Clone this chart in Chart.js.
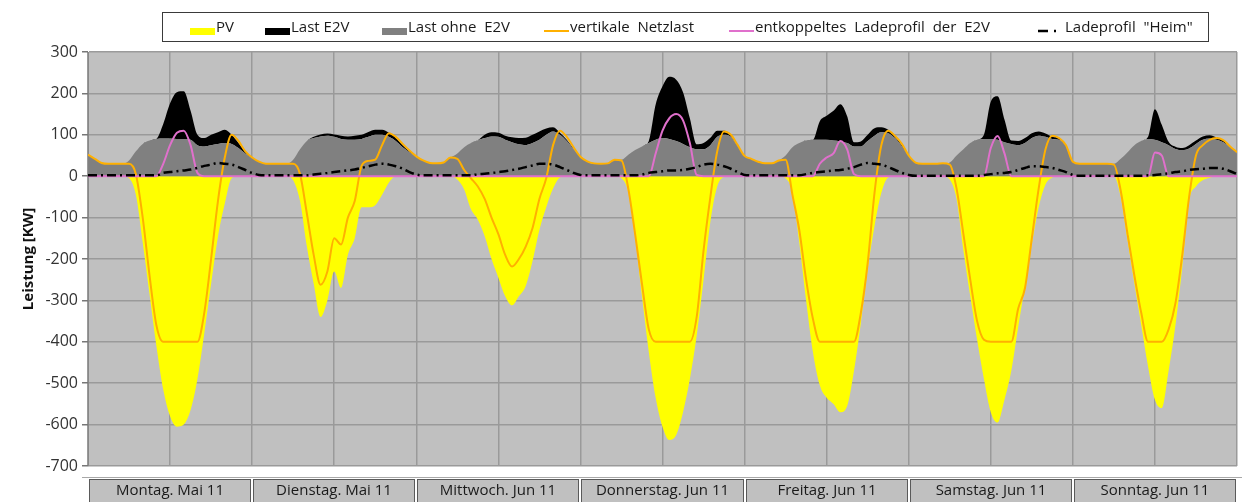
<!DOCTYPE html>
<html>
<head>
<meta charset="utf-8">
<script src="https://cdn.jsdelivr.net/npm/chart.js@4.4.0/dist/chart.umd.min.js"></script>
<style>
  html, body { margin: 0; padding: 0; background: #fff; }
</style>
</head>
<body>
<canvas id="mycanvas" width="1242" height="502"></canvas>
<script>
// one value per hour, Monday 0:00 .. Sunday 24:00 (169 points)
var dayLabels = ['Montag. Mai 11', 'Dienstag. Mai 11', 'Mittwoch. Jun 11', 'Donnerstag. Jun 11',
                 'Freitag. Jun 11', 'Samstag. Jun 11', 'Sonntag. Jun 11'];
var yTicks = [300, 200, 100, 0, -100, -200, -300, -400, -500, -600, -700];

var pv = [
  0,0,0,0,0,0,-5,-45,-160,-285,-410,-515,-580,-605,-600,-565,-490,-380,-260,-146,-66,-5,0,0,
  0,0,0,0,0,0,-10,-60,-170,-260,-340,-300,-230,-270,-190,-150,-75,-75,-70,-45,-15,0,0,0,
  0,0,0,0,0,0,-8,-32,-80,-105,-145,-200,-245,-290,-312,-290,-265,-205,-130,-75,-30,-3,0,0,
  0,0,0,0,0,0,-5,-38,-145,-290,-425,-535,-605,-637,-625,-570,-490,-385,-250,-110,-25,-2,0,0,
  0,0,0,0,0,0,-5,-40,-160,-300,-425,-505,-535,-550,-570,-555,-470,-355,-225,-120,-40,-3,0,0,
  0,0,0,0,0,0,-8,-55,-180,-290,-395,-490,-570,-595,-540,-470,-365,-265,-165,-75,-20,-3,0,0,
  0,0,0,0,0,0,0,-50,-155,-260,-360,-460,-540,-560,-470,-360,-220,-60,-25,-10,-4,0,0,0,
  0
];

var lastOhneE2V = [
  52,42,32,30,30,30,38,60,78,86,90,91,91,90,90,88,75,72,75,78,80,78,68,55,
  45,35,30,30,30,30,40,65,85,92,96,98,95,90,88,88,90,95,100,100,95,85,70,58,
  48,38,32,31,33,45,55,70,80,87,92,96,95,88,82,77,75,80,88,100,108,100,85,65,
  47,35,30,30,30,40,40,52,63,72,80,88,92,90,85,78,70,65,65,75,95,100,95,72,
  49,42,35,31,31,38,50,70,80,86,88,88,88,86,84,80,72,72,85,98,106,104,92,72,
  50,33,30,30,30,30,33,50,65,80,88,90,90,88,82,78,75,80,92,98,95,90,88,72,
  35,30,30,30,30,30,30,42,58,75,85,90,88,82,75,66,63,67,78,88,91,88,82,70,
  55
];

var lastE2V = [
  0,0,0,0,0,0,0,0,0,0,0,35,85,113,115,70,25,20,25,28,32,22,12,4,
  0,0,0,0,0,0,0,0,0,3,5,5,6,8,8,10,10,12,12,12,10,8,5,2,
  0,0,0,0,0,0,0,0,0,0,8,10,10,10,12,15,18,20,20,15,10,5,3,1,
  0,0,0,0,0,0,0,0,0,0,5,85,125,150,148,125,70,12,15,18,15,10,5,2,
  0,0,0,0,0,0,0,0,0,0,0,45,58,72,90,65,10,12,15,18,12,8,5,2,
  0,0,0,0,0,0,0,0,0,0,0,10,90,105,55,8,10,12,12,10,8,5,3,1,
  0,0,0,0,0,0,0,0,0,0,0,5,74,42,8,5,5,8,8,8,8,6,5,3,
  0
];

var netzlast = [
  52,42,32,30,30,30,30,5,-100,-240,-360,-400,-400,-400,-400,-400,-400,-330,-200,-60,45,100,85,60,
  45,35,30,30,30,30,30,5,-90,-190,-262,-230,-150,-165,-100,-60,25,37,40,75,104,95,78,62,
  48,38,32,31,33,45,42,15,-5,-25,-55,-100,-140,-190,-218,-200,-170,-125,-55,-5,75,110,95,70,
  47,36,31,30,31,40,38,-30,-140,-260,-370,-400,-400,-400,-400,-400,-400,-340,-180,-50,60,108,100,75,
  49,42,35,31,31,38,40,-45,-130,-250,-345,-400,-400,-400,-400,-400,-400,-330,-210,-40,75,110,97,78,
  50,33,30,30,30,31,28,-30,-140,-250,-350,-395,-400,-400,-400,-400,-320,-270,-150,-30,65,98,92,75,
  35,30,30,30,30,30,28,-35,-140,-240,-330,-400,-400,-400,-370,-307,-190,-50,50,75,88,92,87,72,
  58
];

var ladeprofilE2V = [
  0,0,0,0,0,0,0,0,0,0,0,30,75,105,110,75,8,0,0,0,0,0,0,0,
  0,0,0,0,0,0,0,0,0,0,0,0,0,0,0,0,0,0,0,0,0,0,0,0,
  0,0,0,0,0,0,0,0,0,0,0,0,0,0,0,0,0,0,0,0,0,0,0,0,
  0,0,0,0,0,0,0,0,0,0,0,55,110,140,150,135,80,3,0,0,0,0,0,0,
  0,0,0,0,0,0,0,0,0,0,0,30,45,55,85,65,5,0,0,0,0,0,0,0,
  0,0,0,0,0,0,0,0,0,0,0,0,68,97,55,0,0,0,0,0,0,0,0,0,
  0,0,0,0,0,0,0,0,0,0,0,0,57,50,0,0,0,0,0,0,0,0,0,0,
  0
];

var ladeprofilHeim = [
  2,2,2,2,2,2,2,2,2,2,2,8,10,12,14,16,20,25,28,32,30,28,22,15,
  8,3,2,2,2,2,2,2,2,4,6,8,10,12,14,16,20,24,28,30,28,24,18,10,
  4,2,2,2,2,2,2,2,2,5,6,8,10,12,15,18,22,26,30,30,28,22,15,8,
  3,2,2,2,2,2,2,2,2,4,8,10,12,14,14,15,18,22,28,30,28,24,18,10,
  3,2,2,2,2,2,2,2,2,5,8,10,12,14,15,18,22,28,32,30,28,22,15,8,
  3,1,1,1,1,1,1,1,1,1,1,3,5,7,8,10,15,20,24,24,22,20,15,10,
  3,1,1,1,1,1,1,1,1,1,1,2,3,5,7,10,12,15,17,18,20,20,18,12,
  5
];

var hours = [];
for (var h = 0; h < pv.length; h++) hours.push(h);

var FONT = '"Open Sans", "DejaVu Sans", sans-serif';

// grey plot area
var plotBg = {
  id: 'plotBg',
  beforeDraw: function(chart) {
    var a = chart.chartArea, ctx = chart.ctx;
    ctx.save();
    ctx.fillStyle = '#c0c0c0';
    ctx.fillRect(a.left, a.top, a.right - a.left, a.bottom - a.top);
    ctx.restore();
  }
};

// legend in a frame on top
var boxLegend = {
  id: 'boxLegend',
  afterDraw: function(chart) {
    var ctx = chart.ctx, ds = chart.data.datasets;
    var byLabel = {};
    ds.forEach(function(d) { byLabel[d.label] = d; });
    var items = [
      ['PV', 'PV', 190, 'box'], ['Last E2V', 'Last E2V', 265, 'box'],
      ['Last ohne E2V', 'Last ohne  E2V', 382, 'box'],
      ['vertikale Netzlast', 'vertikale  Netzlast', 544, 'line'],
      ['entkoppeltes Ladeprofil der E2V', 'entkoppeltes  Ladeprofil  der  E2V', 729, 'line'],
      ['Ladeprofil "Heim"', 'Ladeprofil  "Heim"', 1038, 'dash']
    ];
    ctx.save();
    ctx.strokeStyle = '#3a3a3a';
    ctx.lineWidth = 1;
    ctx.strokeRect(162.5, 12.5, 1046, 29);
    ctx.font = '15px ' + FONT;
    ctx.textBaseline = 'middle';
    items.forEach(function(it) {
      var d = byLabel[it[0]];
      var x = it[2];
      if (it[3] === 'box') {
        ctx.fillStyle = d.backgroundColor;
        ctx.fillRect(x, 28, 25, 7);
      } else {
        ctx.strokeStyle = d.borderColor;
        ctx.lineWidth = it[3] === 'dash' ? 2.5 : 2;
        ctx.setLineDash(it[3] === 'dash' ? [10, 6, 2, 100] : []);
        ctx.beginPath();
        ctx.moveTo(x, 31);
        ctx.lineTo(x + 25, 31);
        ctx.stroke();
        ctx.setLineDash([]);
      }
      ctx.fillStyle = '#1a1a1a';
      ctx.fillText(it[1], x + (it[3] === 'dash' ? 27 : 26), 28);
    });
    ctx.restore();
  }
};

// day boxes under the plot
var dayAxis = {
  id: 'dayAxis',
  afterDraw: function(chart) {
    var ctx = chart.ctx, xs = chart.scales.x;
    ctx.save();
    ctx.strokeStyle = '#a8a8a8';
    ctx.lineWidth = 1;
    ctx.beginPath();
    ctx.moveTo(82, 477.5);
    ctx.lineTo(1242, 477.5);
    ctx.stroke();
    ctx.font = '15px ' + FONT;
    ctx.textAlign = 'center';
    ctx.textBaseline = 'middle';
    dayLabels.forEach(function(lab, d) {
      var x0 = Math.round(xs.getPixelForValue(d * 24));
      var x1 = Math.round(xs.getPixelForValue((d + 1) * 24));
      ctx.fillStyle = '#c0c0c0';
      ctx.fillRect(x0 + 1, 479, x1 - x0 - 2, 24);
      ctx.strokeStyle = '#5a5a5a';
      ctx.strokeRect(x0 + 1.5, 479.5, x1 - x0 - 3, 24);
      ctx.fillStyle = '#1a1a1a';
      ctx.fillText(lab, (x0 + x1) / 2, 491);
    });
    ctx.restore();
  }
};

var ctxL = document.getElementById('mycanvas').getContext('2d');
var myChart = new Chart(ctxL, {
  type: 'line',
  data: {
    labels: hours,
    datasets: [
      { label: 'Ladeprofil "Heim"', data: ladeprofilHeim, stack: 'heim',
        borderColor: '#000000', borderWidth: 2.5, borderDash: [9, 4, 2, 4], fill: false },
      { label: 'entkoppeltes Ladeprofil der E2V', data: ladeprofilE2V, stack: 'e2v',
        borderColor: '#e070cc', borderWidth: 2, fill: false },
      { label: 'vertikale Netzlast', data: netzlast, stack: 'netz',
        borderColor: '#ffb000', borderWidth: 2, fill: false },
      { label: 'Last ohne E2V', data: lastOhneE2V, stack: 'last',
        borderWidth: 0, borderColor: '#808080', backgroundColor: '#808080', fill: 'origin' },
      { label: 'Last E2V', data: lastE2V, stack: 'last',
        borderWidth: 0, borderColor: '#000000', backgroundColor: '#000000', fill: '-1' },
      { label: 'PV', data: pv, stack: 'pv',
        borderWidth: 0, borderColor: '#ffff00', backgroundColor: '#ffff00', fill: 'origin' }
    ]
  },
  options: {
    responsive: false,
    animation: false,
    devicePixelRatio: 1,
    layout: { padding: { left: 0, right: 5, top: 52, bottom: 36 } },
    elements: {
      point: { radius: 0 },
      line: { cubicInterpolationMode: 'monotone' }
    },
    plugins: { legend: { display: false }, tooltip: { enabled: false } },
    scales: {
      x: {
        type: 'linear', min: 0, max: 168,
        afterFit: function(s) { s.height = 0; },
        ticks: { display: false, stepSize: 12 },
        grid: { color: '#9a9a9a', lineWidth: 1.5, drawTicks: false },
        border: { display: false }
      },
      y: {
        stacked: true,
        min: yTicks[yTicks.length - 1], max: yTicks[0],
        afterFit: function(s) { s.width = 88; },
        ticks: { stepSize: 100, color: '#333', padding: 4, font: { family: FONT, size: 16 } },
        grid: { color: '#9a9a9a', lineWidth: 1.5, tickLength: 6, tickColor: '#777' },
        border: { display: true, color: '#888', width: 1 },
        title: { display: true, text: 'Leistung [KW]', color: '#111',
                 font: { family: FONT, size: 15, weight: 'bold' }, padding: { top: 20, bottom: 0 } }
      }
    }
  },
  plugins: [plotBg, boxLegend, dayAxis]
});
</script>
</body>
</html>
